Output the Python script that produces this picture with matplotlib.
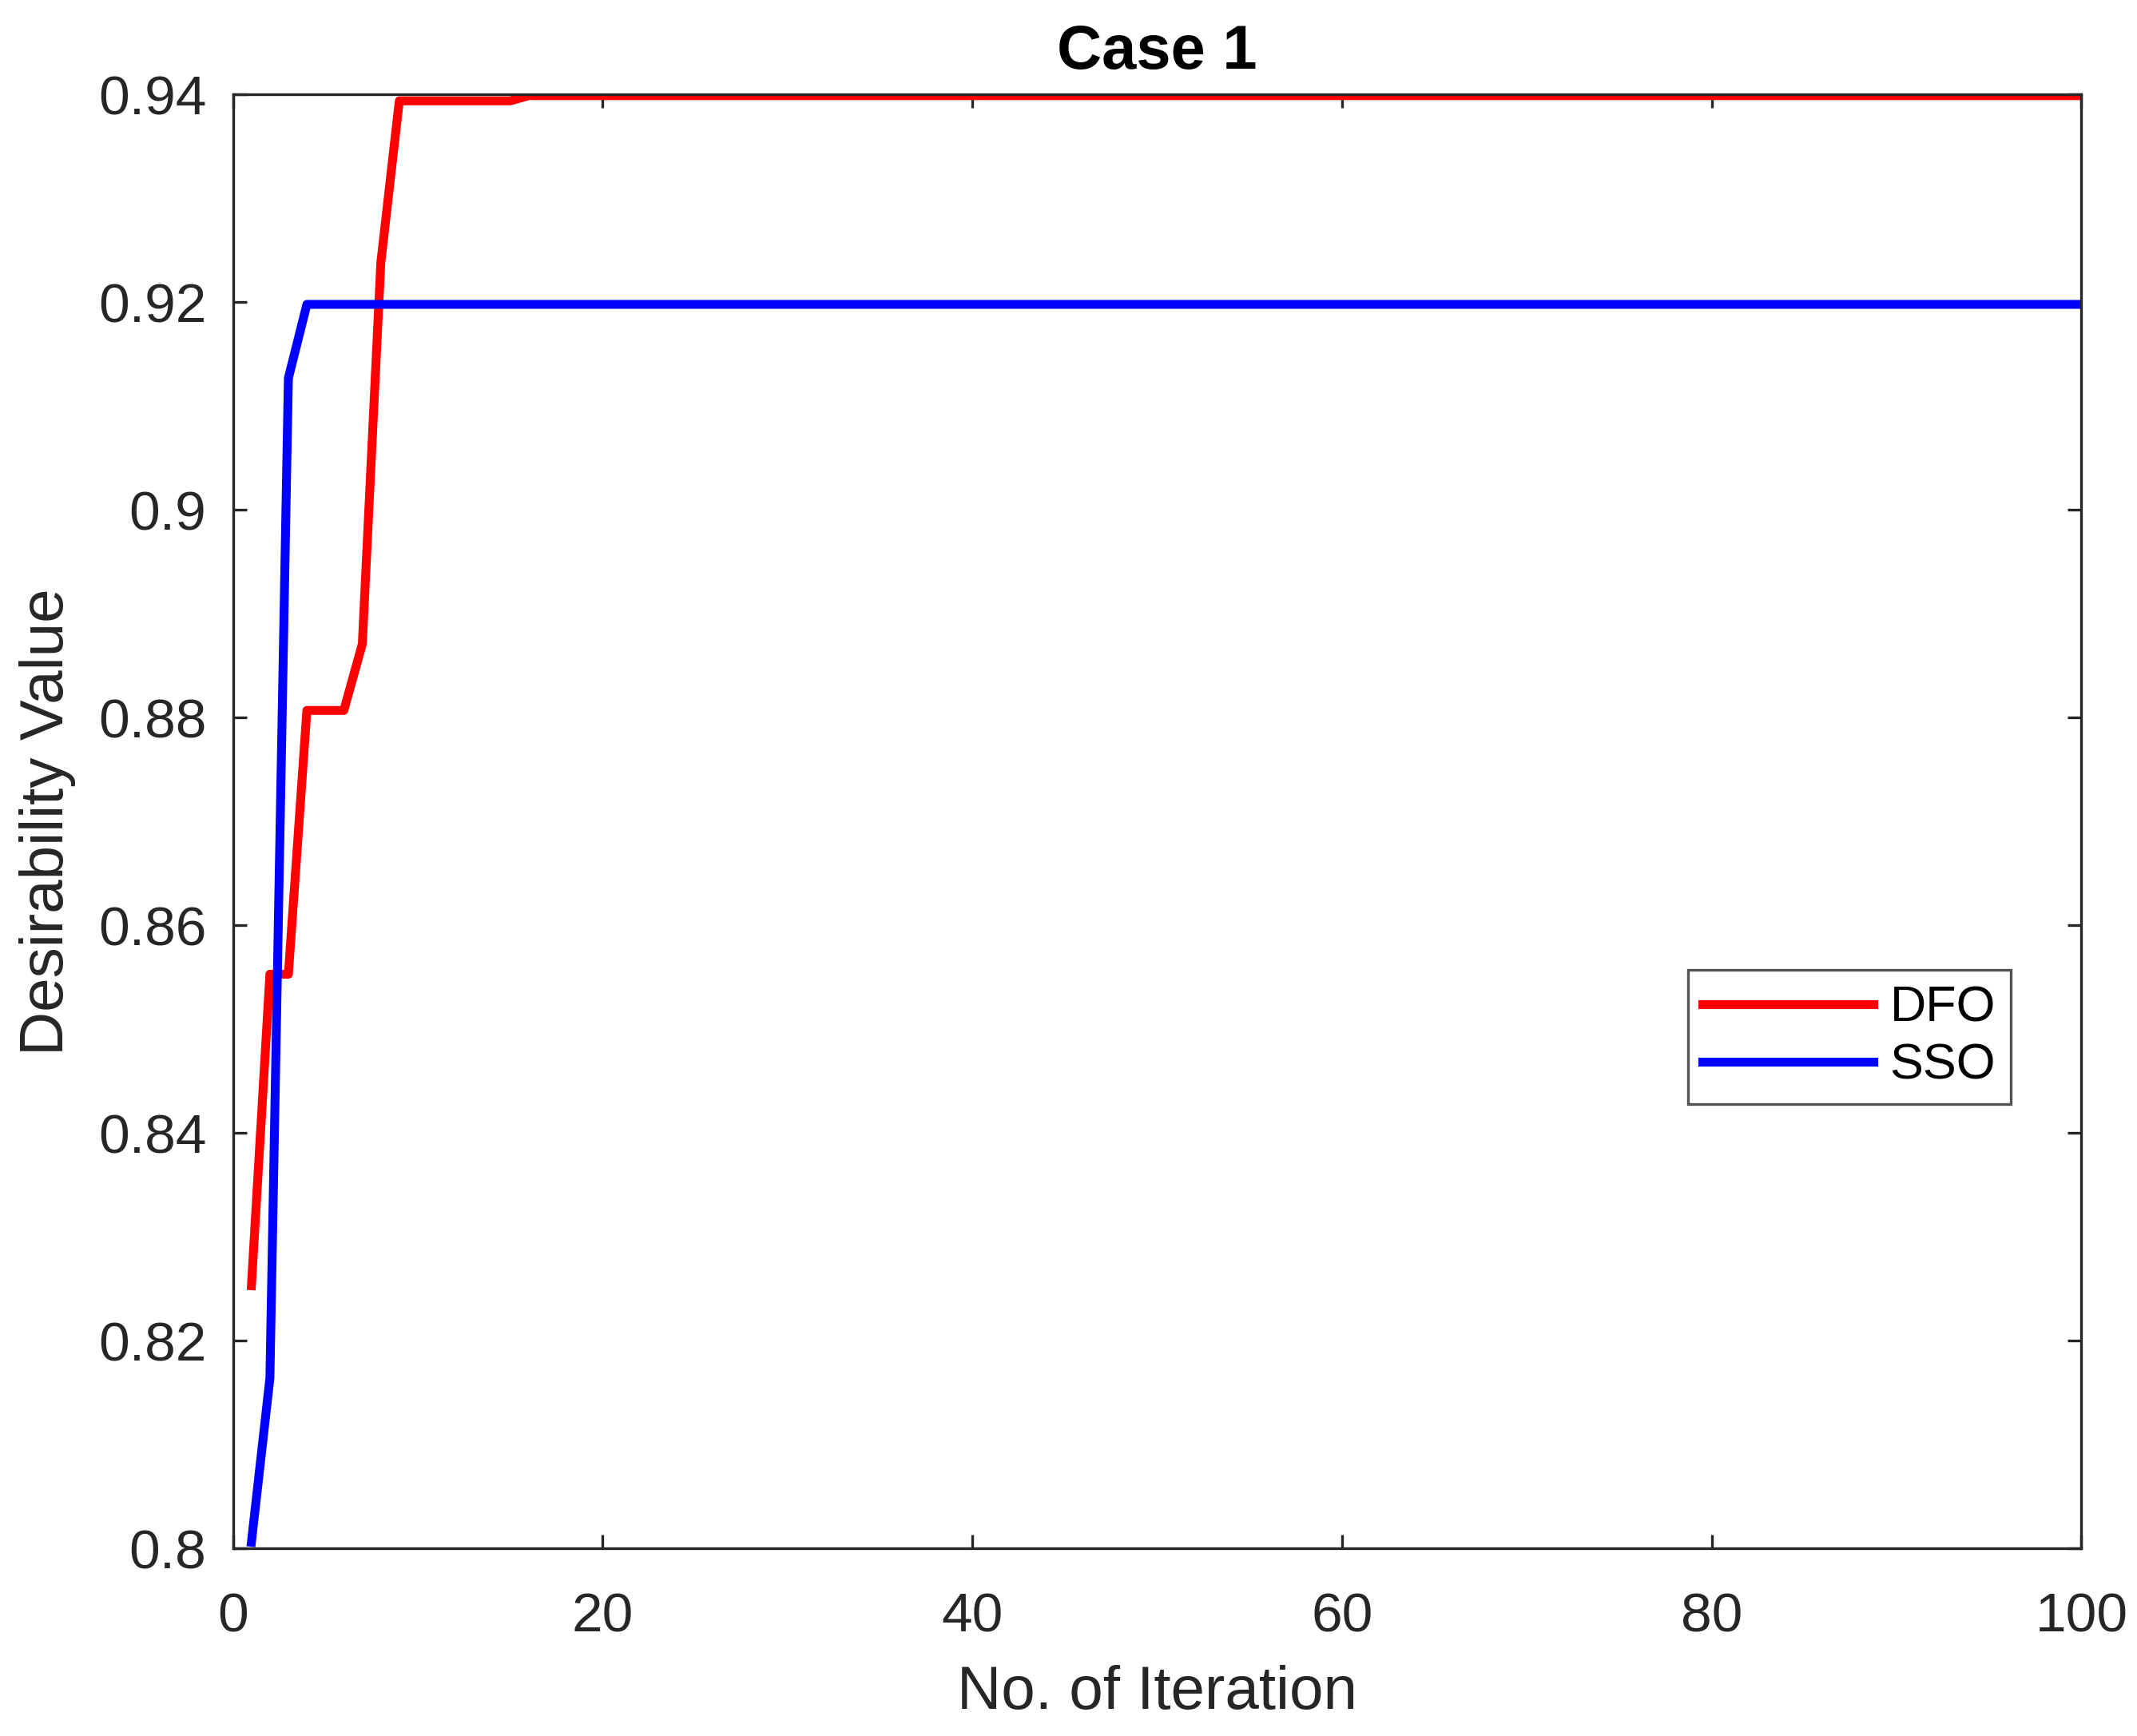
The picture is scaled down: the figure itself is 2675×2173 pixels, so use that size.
import matplotlib
matplotlib.use("Agg")
import matplotlib.pyplot as plt

# Break points of the convergence curves (iteration, desirability)
dfo_iter = [1, 2, 3, 4, 6, 7, 8, 9, 15, 16, 100]
dfo_val = [0.8253, 0.8553, 0.8553, 0.8807, 0.8807, 0.8871, 0.9238, 0.9394, 0.9394, 0.9399, 0.9399]

sso_iter = [1, 2, 3, 4, 100]
sso_val = [0.8006, 0.8164, 0.9127, 0.9198, 0.9198]

x_ticks = [0, 20, 40, 60, 80, 100]
y_ticks = [0.80, 0.82, 0.84, 0.86, 0.88, 0.90, 0.92, 0.94]
y_tick_labels = ["0.8", "0.82", "0.84", "0.86", "0.88", "0.9", "0.92", "0.94"]

plt.rcParams["font.family"] = ["Liberation Sans", "DejaVu Sans"]
axis_color = "#262626"

fig = plt.figure(figsize=(13.375, 10.865), dpi=200)
ax = fig.add_axes([0.109, 0.108, 0.865, 0.8375])

ax.plot(dfo_iter, dfo_val, color="#ff0000", lw=4.0, label="DFO")
ax.plot(sso_iter, sso_val, color="#0000ff", lw=4.0, label="SSO")

ax.set_xlim(0, 100)
ax.set_ylim(0.8, 0.94)
ax.set_xticks(x_ticks)
ax.set_yticks(y_ticks)
ax.set_yticklabels(y_tick_labels)

ax.tick_params(direction="in", length=6.2, width=1.2, top=True, right=True,
               labelsize=25, colors=axis_color)
ax.tick_params(axis="x", pad=19.5)
ax.tick_params(axis="y", pad=12)
for s in ax.spines.values():
    s.set_color(axis_color)
    s.set_linewidth(1.2)

ax.set_xlabel("No. of Iteration", fontsize=27.5, color=axis_color, labelpad=10)
ax.set_ylabel("Desirability Value", fontsize=27.5, color=axis_color, labelpad=10)
ax.set_title("Case 1", fontsize=28, fontweight="bold", pad=11.5)

leg = ax.legend(loc="lower left", bbox_to_anchor=(0.787, 0.3055), fontsize=22.6,
                frameon=True, fancybox=False, handlelength=3.4, handletextpad=0.33,
                labelspacing=0.2, borderpad=0.3, borderaxespad=0)
leg.get_frame().set_edgecolor(axis_color)
leg.get_frame().set_linewidth(1.2)

fig.savefig("out.png", dpi=200)
